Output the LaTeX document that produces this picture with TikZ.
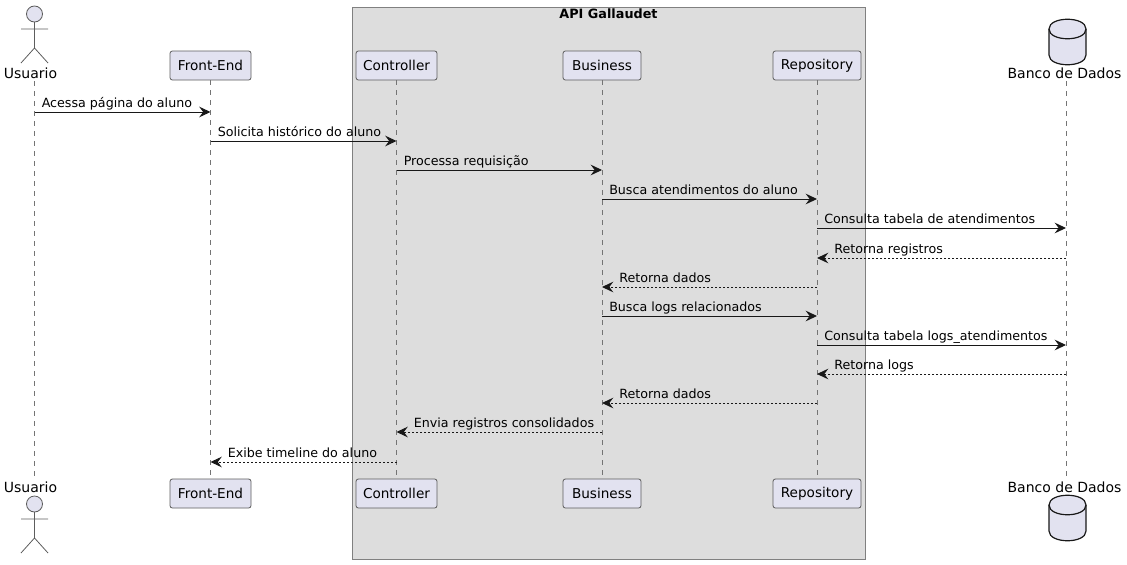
\documentclass[tikz,border=0pt]{standalone}
\usepackage{fontspec}
\setmainfont{DejaVu Sans}
\usetikzlibrary{arrows.meta}
\definecolor{partfill}{HTML}{E2E2F0}
\definecolor{partline}{HTML}{181818}
\definecolor{groupfill}{HTML}{DDDDDD}
\definecolor{groupline}{HTML}{808080}
\tikzset{
    part/.style={draw=partline!70,fill=partfill,line width=0.6pt,rounded corners=1.8pt,
        minimum height=21.75pt,inner sep=0pt,font=\fontsize{10.2}{12}\selectfont},
    lifeline/.style={draw=partline!60,line width=0.4pt,dash pattern=on 3.75pt off 3.75pt},
    msg/.style={draw=partline,line width=0.75pt,-{Stealth[length=8.5pt,width=8pt,inset=3pt]}},
    reply/.style={msg,dash pattern=on 1.5pt off 1.5pt},
    msgtext/.style={anchor=base west,inner sep=0pt,font=\fontsize{9.5}{11}\selectfont},
    bigtext/.style={inner sep=0pt,anchor=base,font=\fontsize{10.5}{12}\selectfont},
}
\begin{document}
\begin{tikzpicture}[x=0.75pt,y=-0.75pt]
    \useasboundingbox (0,0) rectangle (1127,564);
    % API group
    \draw[draw=groupline,fill=groupfill,line width=0.75pt] (352.5,7) rectangle (865,559);
    \node[inner sep=0pt,font=\fontsize{9.6}{11}\selectfont\bfseries] (groupTitle) at (608.5,14) {API Gallaudet};
    % boxes
    \foreach \name/\x/\w/\txt in {front/210.5/81/Front-End,controller/396.5/81/Controller,business/602/78/Business,repository/817/88/Repository} {
        \node[part,minimum width=\w*0.75pt] (\name Top) at (\x,65.5) {\txt};
        \node[part,minimum width=\w*0.75pt] (\name Bottom) at (\x,493.5) {\txt};
        \draw[lifeline] (\name Top) -- (\name Bottom);
    }
    % actor and database, top and bottom
    \node[bigtext] (usuarioTop) at (30.5,78) {Usuario};
    \node[bigtext] (usuarioBottom) at (30.5,492) {Usuario};
    \node[bigtext] (bancoTop) at (1064.5,78) {Banco de Dados};
    \node[bigtext] (bancoBottom) at (1064.5,492) {Banco de Dados};
    \foreach \y in {0,490} {
        \draw[draw=partline!70,fill=partfill,line width=0.6pt] (34.5,14+\y) circle (8);
        \draw[draw=partline!70,line width=0.6pt] (34.5,22+\y) -- (34.5,48+\y)
            (21,29+\y) -- (48,29+\y) (21,63+\y) -- (34.5,48+\y) -- (48,63+\y);
    }
    \foreach \y in {0,476} {
        \draw[draw=partline,fill=partfill,line width=0.9pt] (1049,29+\y)
            .. controls (1049,16+\y) and (1086,16+\y) .. (1086,29+\y) -- (1086,55+\y)
            .. controls (1086,68+\y) and (1049,68+\y) .. (1049,55+\y) -- cycle;
        \draw[draw=partline,line width=0.9pt] (1049,29+\y) .. controls (1049,42+\y) and (1086,42+\y) .. (1086,29+\y);
    }
    \coordinate (usuarioA) at (34.5,81);
    \coordinate (usuarioB) at (34.5,476);
    \coordinate (bancoA) at (1066,81);
    \coordinate (bancoB) at (1066,476);
    \draw[lifeline] (usuarioA) -- (usuarioB);
    \draw[lifeline] (bancoA) -- (bancoB);
    % messages going right
    \foreach \a/\b/\y/\txt in {
        usuarioA/frontTop/112/Acessa página do aluno,
        frontTop/controllerTop/141/Solicita histórico do aluno,
        controllerTop/businessTop/170/Processa requisição,
        businessTop/repositoryTop/199/Busca atendimentos do aluno,
        repositoryTop/bancoA/228/Consulta tabela de atendimentos,
        businessTop/repositoryTop/316/Busca logs relacionados,
        repositoryTop/bancoA/345/Consulta tabela logs\_atendimentos} {
        \coordinate (from\y) at (\a |- 0,\y);
        \coordinate (to\y) at (\b |- 0,\y);
        \draw[msg] (from\y) -- (to\y);
        \node[msgtext] (label\y) at ([shift={(7,-5)}]from\y) {\txt};
    }
    % replies going left
    \foreach \a/\b/\y/\txt in {
        bancoA/repositoryTop/258/Retorna registros,
        repositoryTop/businessTop/287/Retorna dados,
        bancoA/repositoryTop/374/Retorna logs,
        repositoryTop/businessTop/403/Retorna dados,
        businessTop/controllerTop/432/Envia registros consolidados,
        controllerTop/frontTop/462/Exibe timeline do aluno} {
        \coordinate (from\y) at (\a |- 0,\y);
        \coordinate (to\y) at (\b |- 0,\y);
        \draw[reply] (from\y) -- (to\y);
        \node[msgtext] (label\y) at ([shift={(17,-5)}]to\y) {\txt};
    }
\end{tikzpicture}
\end{document}
